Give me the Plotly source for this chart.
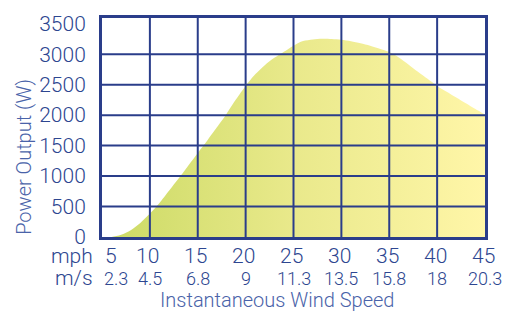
import plotly.graph_objects as go

# ---- data ----
mph_curve = [5, 6, 7, 8, 9, 10, 11, 12, 13, 14, 15, 16, 17, 18, 19, 20, 21, 22, 23, 24, 25,
             26, 27, 28, 29, 30, 31, 32, 33, 34, 35, 36, 37, 38, 39, 40, 41, 42, 43, 44, 45]
power_w = [0, 0, 35, 110, 230, 385, 560, 760, 960, 1170, 1380, 1585, 1800, 2020, 2260, 2480,
           2670, 2820, 2940, 3040, 3140, 3215, 3242, 3252, 3248, 3236, 3212, 3180, 3140, 3090,
           3035, 2945, 2830, 2710, 2595, 2480, 2385, 2290, 2195, 2100, 2010]

mph_ticks = [5, 10, 15, 20, 25, 30, 35, 40, 45]
ms_labels = ["2.3", "4.5", "6.8", "9", "11.3", "13.5", "15.8", "18", "20.3"]
power_ticks = [0, 500, 1000, 1500, 2000, 2500, 3000, 3500]

NAVY = "#2a3d8a"
TICK = "#2d4690"
TITLE = "#4a63a9"
FONT = "Roboto"
W = 300

fig = go.Figure()
fig.add_trace(go.Scatter(
    x=mph_curve, y=power_w, mode="lines",
    line=dict(width=0, shape="spline", smoothing=0.8),
    fill="tozeroy",
    fillgradient=dict(type="horizontal",
                      colorscale=[[0, "#cbda64"], [0.5, "#e9e98b"], [1, "#fff6a8"]]),
    hoverinfo="skip", showlegend=False,
))

shapes = []
for v in mph_ticks[1:-1]:
    shapes.append(dict(type="line", xref="x", yref="paper", x0=v, x1=v, y0=0, y1=1,
                       line=dict(color=NAVY, width=2), layer="above"))
for v in power_ticks[1:-1]:
    shapes.append(dict(type="line", xref="paper", yref="y", x0=0, x1=1, y0=v, y1=v,
                       line=dict(color=NAVY, width=2), layer="above"))

annotations = []
for i, (m, s) in enumerate(zip(mph_ticks, ms_labels)):
    annotations.append(dict(x=m, xref="x", y=0, yref="paper", yanchor="top", yshift=-5,
                            xshift=(9 if i == 0 else -2), text=str(m), showarrow=False,
                            font=dict(family=FONT, size=21, color=TICK, weight=W)))
    annotations.append(dict(x=m, xref="x", y=0, yref="paper", yanchor="top", yshift=-29,
                            xshift=(14 if i == 0 else 0), text=s, showarrow=False,
                            font=dict(family=FONT, size=18, color=TICK, weight=W)))
annotations.append(dict(x=0, xref="paper", xanchor="right", xshift=-7, y=0, yref="paper",
                        yanchor="top", yshift=-5, text="mph", showarrow=False,
                        font=dict(family=FONT, size=21, color=TICK, weight=W)))
annotations.append(dict(x=0, xref="paper", xanchor="right", xshift=-7, y=0, yref="paper",
                        yanchor="top", yshift=-27, text="m/s", showarrow=False,
                        font=dict(family=FONT, size=21, color=TICK, weight=W)))
annotations.append(dict(x=(277 - 102) / 383, xref="paper", xanchor="center", y=0, yref="paper",
                        yanchor="top", yshift=-49, text="Instantaneous Wind Speed",
                        showarrow=False, font=dict(family=FONT, size=20, color=TITLE, weight=W)))
annotations.append(dict(x=(24 - 102) / 383, xref="paper", xanchor="center",
                        y=(237 - 155) / 224, yref="paper", yanchor="middle",
                        text="Power Output (W)", textangle=-90, showarrow=False,
                        font=dict(family=FONT, size=20, color=TITLE, weight=W)))

fig.update_layout(
    width=508, height=311,
    margin=dict(l=102, r=23, t=13, b=74),
    paper_bgcolor="white", plot_bgcolor="white",
    shapes=shapes, annotations=annotations,
    xaxis=dict(range=[5, 45], showgrid=False, zeroline=False, showticklabels=False,
               showline=True, mirror=True, linecolor=NAVY, linewidth=3, layer="above traces",
               fixedrange=True),
    yaxis=dict(range=[0, 3594], tickvals=power_ticks, ticktext=[str(v) for v in power_ticks],
               showgrid=False, zeroline=False, showline=True, mirror=True, linecolor=NAVY,
               linewidth=3, layer="above traces", ticklabelstandoff=9,
               tickfont=dict(family=FONT, size=21, color=TICK, weight=W), fixedrange=True),
)

fig.write_html("out.html", config={"displayModeBar": False},
               post_script="document.body.style.margin='0';")
